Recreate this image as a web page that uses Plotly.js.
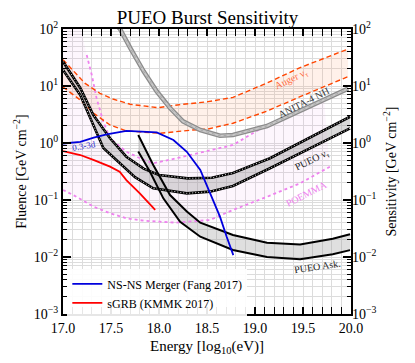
<!DOCTYPE html>
<html>
<head>
<meta charset="utf-8">
<script src="https://cdn.plot.ly/plotly-3.0.1.min.js"></script>
<style>
  html, body { margin: 0; padding: 0; background: #fff; }
  #chart { width: 415px; height: 363px; }
</style>
</head>
<body>
<div id="chart"></div>
<script>
// energies in log10(eV), fluence in GeV cm^-2
var augerUpX = [17.0, 17.23, 17.385, 17.52, 17.70, 17.99, 18.19, 18.51, 18.77, 19.125, 19.47, 19.75, 19.97];
var augerUpY = [29, 11.1, 7.45, 5.92, 4.78, 4.16, 4.65, 5.31, 6.3, 11.3, 21, 31.5, 44.6];
var augerLoX = [17.0, 17.18, 17.32, 17.49, 17.66, 18.01, 18.35, 18.51, 18.77, 19.125, 19.47, 19.75, 19.97];
var augerLoY = [9.6, 5.68, 3.32, 2.07, 1.63, 1.48, 1.69, 1.76, 2.22, 3.63, 6.49, 10.4, 14.6];

var anitaX = [17.55, 17.594, 17.70, 17.84, 17.976, 18.115, 18.25, 18.43, 18.635, 18.77, 19.125, 19.47, 19.75, 19.97];
var anitaY = [120, 100, 46.5, 18.1, 8.07, 4.11, 2.40, 1.69, 1.34, 1.38, 1.99, 3.70, 6.0, 9.0];

var nuTauUpX = [17.0, 17.18, 17.316, 17.49, 17.66, 17.84, 18.0, 18.3, 18.55, 18.77, 19.156, 19.573, 19.99];
var nuTauUpY = [26.9, 9.23, 3.10, 1.21, 0.575, 0.355, 0.275, 0.24, 0.245, 0.298, 0.54, 1.27, 2.89];
var nuTauLoX = [17.0, 17.18, 17.42, 17.594, 17.75, 17.94, 18.29, 18.53, 18.77, 19.156, 19.573, 19.99];
var nuTauLoY = [19.1, 6.95, 0.817, 0.44, 0.251, 0.160, 0.131, 0.140, 0.176, 0.36, 0.817, 1.81];

var askUpX = [17.784, 17.94, 18.115, 18.29, 18.43, 18.77, 19.125, 19.47, 19.81, 19.99];
var askUpY = [1.38, 0.411, 0.122, 0.063, 0.040, 0.0243, 0.0178, 0.0166, 0.0209, 0.0251];
var askLoX = [17.784, 17.906, 18.045, 18.22, 18.43, 18.77, 19.125, 19.47, 19.81, 19.99];
var askLoY = [0.708, 0.314, 0.107, 0.0416, 0.0227, 0.0133, 0.0100, 0.0091, 0.0112, 0.0132];

// first point of the upper POEMMA edge lies off the top of the chart (only used for the shading)
var poemmaUpX = [17.0, 17.247, 17.30, 17.35, 17.42, 17.49, 17.66, 17.84, 17.94, 18.18, 18.51, 18.77, 19.125, 19.47, 19.72];
var poemmaUpY = [3000, 35, 15.6, 6.08, 2.37, 1.21, 0.703, 0.504, 0.44, 0.54, 0.724, 0.923, 2.07, 3.63, 5.5];
var poemmaLoX = [17.0, 17.14, 17.32, 17.49, 17.66, 17.84, 18.01, 18.18, 18.53, 18.77, 19.125, 19.47, 19.78];
var poemmaLoY = [0.15, 0.114, 0.0762, 0.0585, 0.0477, 0.0434, 0.0416, 0.040, 0.0446, 0.0668, 0.114, 0.196, 0.384];

var nsnsX = [17.0, 17.18, 17.32, 17.455, 17.66, 17.976, 18.15, 18.29, 18.43, 18.53, 18.635, 18.705, 18.774];
var nsnsY = [0.98, 1.05, 1.24, 1.42, 1.63, 1.54, 1.13, 0.70, 0.336, 0.131, 0.051, 0.0227, 0.0108];
var sgrbX = [17.0, 17.18, 17.316, 17.49, 17.59, 17.66, 17.80, 17.96];
var sgrbY = [0.72, 0.615, 0.504, 0.384, 0.313, 0.224, 0.131, 0.067];

var xTickVals = [17.0, 17.5, 18.0, 18.5, 19.0, 19.5, 20.0];
var xTickText = ['17.0', '17.5', '18.0', '18.5', '19.0', '19.5', '20.0'];
var yTickVals = [0.001, 0.01, 0.1, 1, 10, 100];
var yTickText = ['10<sup>\u22123</sup>', '10<sup>\u22122</sup>', '10<sup>\u22121</sup>', '10<sup>0</sup>', '10<sup>1</sup>', '10<sup>2</sup>'];

var serif = 'Liberation Serif, DejaVu Serif, serif';

function band(upX, upY, loX, loY, color) {
	return {
		x : upX.concat(loX.slice().reverse()),
		y : upY.concat(loY.slice().reverse()),
		type : 'scatter',
		mode : 'lines',
		fill : 'toself',
		fillcolor : color,
		line : { width : 0 },
		hoverinfo : 'skip',
		showlegend : false
	};
}

function line(x, y, color, width, dash) {
	return {
		x : x,
		y : y,
		type : 'scatter',
		mode : 'lines',
		line : { color : color, width : width, dash : dash || 'solid' },
		hoverinfo : 'skip',
		showlegend : false
	};
}

var data = [];
// shaded regions
data.push(band(poemmaUpX, poemmaUpY, poemmaLoX, poemmaLoY, 'rgba(225,140,235,0.08)'));
data.push(band(augerUpX, augerUpY, augerLoX, augerLoY, 'rgba(255,150,90,0.13)'));
data.push(band(nuTauUpX, nuTauUpY, nuTauLoX, nuTauLoY, 'rgba(150,150,150,0.35)'));
data.push(band(askUpX, askUpY, askLoX, askLoY, 'rgba(150,150,150,0.30)'));

// POEMMA
data.push(line(poemmaUpX.slice(1), poemmaUpY.slice(1), '#ee82ee', 1.8, 'dot'));
data.push(line(poemmaLoX, poemmaLoY, '#ee82ee', 1.8, 'dot'));
// Auger
data.push(line(augerUpX, augerUpY, '#ff4500', 1.4, '5px,3px'));
data.push(line(augerLoX, augerLoY, '#ff4500', 1.4, '5px,3px'));
// ANITA-4 NH
data.push(line(anitaX, anitaY, '#8c8c8c', 4.6));
data.push(line(anitaX, anitaY, '#c8c8c8', 2.0));
data.push(line(anitaX, anitaY, '#a0a0a0', 0.8, 'dot'));
// PUEO nu_tau
data.push(line(nuTauUpX, nuTauUpY, 'black', 2.6));
data.push(line(nuTauUpX, nuTauUpY, 'white', 0.9, '1px,2px'));
data.push(line(nuTauLoX, nuTauLoY, 'black', 2.6));
data.push(line(nuTauLoX, nuTauLoY, 'white', 0.9, '1px,2px'));
// PUEO Askaryan
data.push(line(askUpX, askUpY, 'black', 2.0));
data.push(line(askLoX, askLoY, 'black', 2.0));

// source models
data.push({ x : nsnsX, y : nsnsY, type : 'scatter', mode : 'lines',
	line : { color : '#0000dd', width : 1.8 }, name : 'NS-NS Merger (Fang 2017)', hoverinfo : 'skip' });
data.push({ x : sgrbX, y : sgrbY, type : 'scatter', mode : 'lines',
	line : { color : '#ff0000', width : 1.8 }, name : 'sGRB (KMMK 2017)', hoverinfo : 'skip' });

// dummy for the right hand axis
data.push({ x : [17.0], y : [1], yaxis : 'y2', type : 'scatter', mode : 'markers',
	marker : { opacity : 0 }, showlegend : false, hoverinfo : 'skip' });

var gridCol = '#dcdcdc';

var layout = {
	width : 415,
	height : 363,
	margin : { l : 63, r : 64, t : 29, b : 49 },
	paper_bgcolor : 'white',
	plot_bgcolor : 'white',
	font : { family : serif, size : 13, color : 'black' },
	title : {
		text : 'PUEO Burst Sensitivity',
		font : { family : serif, size : 19 },
		x : 0.5,
		xanchor : 'center',
		y : 0.953,
		yanchor : 'middle'
	},
	showlegend : true,
	legend : {
		x : 0.015,
		y : -0.012,
		xanchor : 'left',
		yanchor : 'bottom',
		bgcolor : 'rgba(255,255,255,0.9)',
		borderwidth : 0,
		font : { family : serif, size : 12 },
		tracegroupgap : 0
	},
	xaxis : {
		range : [17.0, 20.0],
		tickvals : xTickVals,
		ticktext : xTickText,
		ticks : 'inside',
		ticklen : 7,
		tickwidth : 1.2,
		tickcolor : 'black',
		showline : true,
		linewidth : 2,
		linecolor : 'black',
		mirror : 'allticks',
		showgrid : true,
		gridcolor : gridCol,
		gridwidth : 1,
		zeroline : false,
		minor : { dtick : 0.1, ticks : 'inside', ticklen : 3.5, tickcolor : 'black', showgrid : true, gridcolor : gridCol, gridwidth : 1 },
		tickfont : { family : serif, size : 14 },
		title : { text : 'Energy [log<sub>10</sub>(eV)]', font : { family : serif, size : 15 }, standoff : 6 }
	},
	yaxis : {
		type : 'log',
		range : [-3, 2],
		tickmode : 'array',
		tickvals : yTickVals,
		ticktext : yTickText,
		ticks : 'inside',
		ticklen : 8,
		tickwidth : 1.2,
		tickcolor : 'black',
		showline : true,
		linewidth : 2,
		linecolor : 'black',
		mirror : 'allticks',
		showgrid : true,
		gridcolor : gridCol,
		gridwidth : 1,
		zeroline : false,
		minor : { tickmode : 'linear', tick0 : 0, dtick : 'D1', ticks : 'inside', ticklen : 4, tickcolor : 'black', showgrid : true, gridcolor : gridCol, gridwidth : 1 },
		tickfont : { family : serif, size : 14 },
		title : { text : 'Fluence [GeV cm<sup>\u22122</sup>]', font : { family : serif, size : 14 }, standoff : 4 }
	},
	yaxis2 : {
		type : 'log',
		range : [-3, 2],
		tickmode : 'array',
		tickvals : yTickVals,
		ticktext : yTickText,
		overlaying : 'y',
		side : 'right',
		ticks : '',
		showgrid : false,
		showline : false,
		zeroline : false,
		tickfont : { family : serif, size : 14 },
		title : { text : 'Sensitivity [GeV cm<sup>\u22122</sup>]', font : { family : serif, size : 14 }, standoff : 10 }
	},
	annotations : [
		{ x : 19.38, y : 1.11, text : 'Auger \u03bd<sub>\u03c4</sub>', textangle : -26, showarrow : false,
			font : { family : serif, size : 10, color : '#ff6a40' } },
		{ x : 19.51, y : 0.71, text : 'ANITA-4 NH', textangle : -27, showarrow : false,
			font : { family : serif, size : 10, color : '#333333' } },
		{ x : 19.594, y : -0.30, text : 'PUEO \u03bd<sub>\u03c4</sub>', textangle : -26, showarrow : false,
			font : { family : serif, size : 10, color : '#222222' } },
		{ x : 19.54, y : -0.88, text : 'POEMMA', textangle : -27, showarrow : false,
			font : { family : serif, size : 10, color : '#ee82ee' } },
		{ x : 19.646, y : -2.16, text : 'PUEO Ask.', textangle : -8, showarrow : false,
			font : { family : serif, size : 10, color : '#222222' } },
		{ x : 17.22, y : -0.05, text : '0.3-3d', textangle : -10, showarrow : false,
			font : { family : serif, size : 9, color : '#3030cc' } }
	]
};

Plotly.newPlot('chart', data, layout, { displayModeBar : false, staticPlot : true });
</script>
</body>
</html>
